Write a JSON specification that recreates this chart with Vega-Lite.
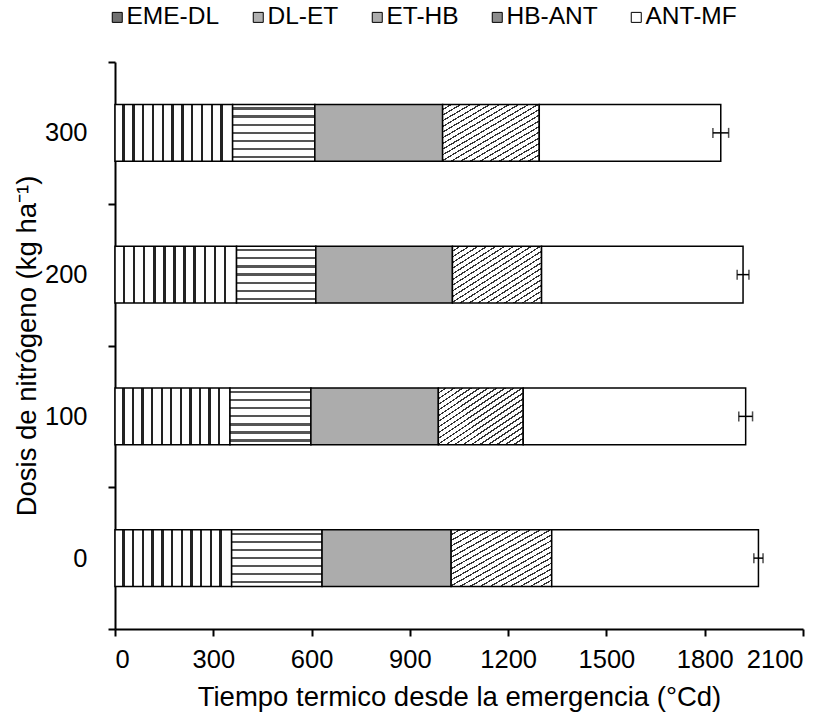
{
  "$schema": "https://vega.github.io/schema/vega-lite/v6.json",
  "width": 688,
  "height": 567,
  "autosize": "none",
  "padding": {"left": 115, "top": 62, "right": 32, "bottom": 86},
  "background": "white",
  "config": {
    "font": "Liberation Sans",
    "view": {"stroke": null},
    "axis": {
      "grid": false,
      "domainColor": "black",
      "domainWidth": 2,
      "tickColor": "black",
      "tickWidth": 2,
      "tickSize": 7,
      "labelColor": "black",
      "labelFontSize": 25.5,
      "titleColor": "black",
      "titleFontSize": 27.5,
      "titleFontWeight": "normal"
    }
  },
  "datasets": {
    "stages": [
      {"dose": "300", "stage": "EME-DL", "order": 1, "dur": 359},
      {"dose": "300", "stage": "DL-ET", "order": 2, "dur": 251},
      {"dose": "300", "stage": "ET-HB", "order": 3, "dur": 390},
      {"dose": "300", "stage": "HB-ANT", "order": 4, "dur": 295},
      {"dose": "300", "stage": "ANT-MF", "order": 5, "dur": 554},
      {"dose": "200", "stage": "EME-DL", "order": 1, "dur": 371},
      {"dose": "200", "stage": "DL-ET", "order": 2, "dur": 242},
      {"dose": "200", "stage": "ET-HB", "order": 3, "dur": 417},
      {"dose": "200", "stage": "HB-ANT", "order": 4, "dur": 272},
      {"dose": "200", "stage": "ANT-MF", "order": 5, "dur": 615},
      {"dose": "100", "stage": "EME-DL", "order": 1, "dur": 351},
      {"dose": "100", "stage": "DL-ET", "order": 2, "dur": 247},
      {"dose": "100", "stage": "ET-HB", "order": 3, "dur": 389},
      {"dose": "100", "stage": "HB-ANT", "order": 4, "dur": 259},
      {"dose": "100", "stage": "ANT-MF", "order": 5, "dur": 679},
      {"dose": "0", "stage": "EME-DL", "order": 1, "dur": 356},
      {"dose": "0", "stage": "DL-ET", "order": 2, "dur": 276},
      {"dose": "0", "stage": "ET-HB", "order": 3, "dur": 394},
      {"dose": "0", "stage": "HB-ANT", "order": 4, "dur": 307},
      {"dose": "0", "stage": "ANT-MF", "order": 5, "dur": 631}
    ],
    "totals": [
      {"dose": "300", "total": 1849, "err": 24},
      {"dose": "200", "total": 1917, "err": 18},
      {"dose": "100", "total": 1925, "err": 21},
      {"dose": "0", "total": 1964, "err": 14}
    ]
  },
  "layer": [
    {
      "data": {"name": "stages"},
      "transform": [
        {"stack": "dur", "groupby": ["dose"], "sort": [{"field": "order", "order": "ascending"}], "as": ["x0", "x1"]}
      ],
      "mark": {"type": "bar", "stroke": "black", "strokeWidth": 1.5, "height": {"band": 0.4}},
      "encoding": {
        "y": {
          "field": "dose",
          "type": "nominal",
          "sort": ["300", "200", "100", "0"],
          "title": "Dosis de nitrógeno (kg ha⁻¹)",
          "scale": {"paddingInner": 0, "paddingOuter": 0},
          "axis": {
            "tickBand": "extent",
            "labelAngle": 0,
            "labelPadding": 21,
            "titleX": -74,
            "titleBaseline": "bottom"
          }
        },
        "x": {
          "field": "x0",
          "type": "quantitative",
          "title": "Tiempo termico desde la emergencia (°Cd)",
          "scale": {"domain": [0, 2100], "nice": false},
          "axis": {
            "values": [0, 300, 600, 900, 1200, 1500, 1800, 2100],
            "format": "d",
            "labelPadding": 11,
            "titleY": 76,
            "titleBaseline": "alphabetic"
          }
        },
        "x2": {"field": "x1"},
        "fill": {
          "field": "stage",
          "type": "nominal",
          "scale": {
            "domain": ["EME-DL", "DL-ET", "ET-HB", "HB-ANT", "ANT-MF"],
            "range": ["#707070", "#b0b0b0", "#acacac", "#8c8c8c", "#ffffff"]
          },
          "condition": [
            {
              "test": "datum.stage === 'EME-DL'",
              "value": {
                "gradient": "linear", "x1": 0, "y1": 0, "x2": 1, "y2": 0,
                "stops": [
                  {"offset": 0, "color": "white"},
                  {"offset": 0.0625, "color": "white"}, {"offset": 0.0625, "color": "#222"}, {"offset": 0.0833, "color": "#222"}, {"offset": 0.0833, "color": "white"},
                  {"offset": 0.1458, "color": "white"}, {"offset": 0.1458, "color": "#222"}, {"offset": 0.1667, "color": "#222"}, {"offset": 0.1667, "color": "white"},
                  {"offset": 0.2292, "color": "white"}, {"offset": 0.2292, "color": "#222"}, {"offset": 0.25, "color": "#222"}, {"offset": 0.25, "color": "white"},
                  {"offset": 0.3125, "color": "white"}, {"offset": 0.3125, "color": "#222"}, {"offset": 0.3333, "color": "#222"}, {"offset": 0.3333, "color": "white"},
                  {"offset": 0.3958, "color": "white"}, {"offset": 0.3958, "color": "#222"}, {"offset": 0.4167, "color": "#222"}, {"offset": 0.4167, "color": "white"},
                  {"offset": 0.4792, "color": "white"}, {"offset": 0.4792, "color": "#222"}, {"offset": 0.5, "color": "#222"}, {"offset": 0.5, "color": "white"},
                  {"offset": 0.5625, "color": "white"}, {"offset": 0.5625, "color": "#222"}, {"offset": 0.5833, "color": "#222"}, {"offset": 0.5833, "color": "white"},
                  {"offset": 0.6458, "color": "white"}, {"offset": 0.6458, "color": "#222"}, {"offset": 0.6667, "color": "#222"}, {"offset": 0.6667, "color": "white"},
                  {"offset": 0.7292, "color": "white"}, {"offset": 0.7292, "color": "#222"}, {"offset": 0.75, "color": "#222"}, {"offset": 0.75, "color": "white"},
                  {"offset": 0.8125, "color": "white"}, {"offset": 0.8125, "color": "#222"}, {"offset": 0.8333, "color": "#222"}, {"offset": 0.8333, "color": "white"},
                  {"offset": 0.8958, "color": "white"}, {"offset": 0.8958, "color": "#222"}, {"offset": 0.9167, "color": "#222"}, {"offset": 0.9167, "color": "white"},
                  {"offset": 1, "color": "white"}
                ]
              }
            },
            {
              "test": "datum.stage === 'DL-ET'",
              "value": {
                "gradient": "linear", "x1": 0, "y1": 0, "x2": 0, "y2": 1,
                "stops": [
                  {"offset": 0, "color": "white"},
                  {"offset": 0.05, "color": "white"}, {"offset": 0.05, "color": "#555"}, {"offset": 0.09, "color": "#555"}, {"offset": 0.09, "color": "white"},
                  {"offset": 0.1929, "color": "white"}, {"offset": 0.1929, "color": "#555"}, {"offset": 0.2329, "color": "#555"}, {"offset": 0.2329, "color": "white"},
                  {"offset": 0.3357, "color": "white"}, {"offset": 0.3357, "color": "#555"}, {"offset": 0.3757, "color": "#555"}, {"offset": 0.3757, "color": "white"},
                  {"offset": 0.4786, "color": "white"}, {"offset": 0.4786, "color": "#555"}, {"offset": 0.5186, "color": "#555"}, {"offset": 0.5186, "color": "white"},
                  {"offset": 0.6214, "color": "white"}, {"offset": 0.6214, "color": "#555"}, {"offset": 0.6614, "color": "#555"}, {"offset": 0.6614, "color": "white"},
                  {"offset": 0.7643, "color": "white"}, {"offset": 0.7643, "color": "#555"}, {"offset": 0.8043, "color": "#555"}, {"offset": 0.8043, "color": "white"},
                  {"offset": 0.9071, "color": "white"}, {"offset": 0.9071, "color": "#555"}, {"offset": 0.9471, "color": "#555"}, {"offset": 0.9471, "color": "white"},
                  {"offset": 1, "color": "white"}
                ]
              }
            },
            {"test": "datum.stage === 'ET-HB'", "value": "#acacac"},
            {
              "test": "datum.stage === 'HB-ANT'",
              "value": {
                "gradient": "linear", "x1": 0, "y1": 0, "x2": 1, "y2": 1,
                "stops": [
                  {"offset": 0, "color": "white"},
                  {"offset": 0.0375, "color": "white"}, {"offset": 0.0375, "color": "#333"}, {"offset": 0.05, "color": "#333"}, {"offset": 0.05, "color": "white"},
                  {"offset": 0.0875, "color": "white"}, {"offset": 0.0875, "color": "#333"}, {"offset": 0.1, "color": "#333"}, {"offset": 0.1, "color": "white"},
                  {"offset": 0.1375, "color": "white"}, {"offset": 0.1375, "color": "#333"}, {"offset": 0.15, "color": "#333"}, {"offset": 0.15, "color": "white"},
                  {"offset": 0.1875, "color": "white"}, {"offset": 0.1875, "color": "#333"}, {"offset": 0.2, "color": "#333"}, {"offset": 0.2, "color": "white"},
                  {"offset": 0.2375, "color": "white"}, {"offset": 0.2375, "color": "#333"}, {"offset": 0.25, "color": "#333"}, {"offset": 0.25, "color": "white"},
                  {"offset": 0.2875, "color": "white"}, {"offset": 0.2875, "color": "#333"}, {"offset": 0.3, "color": "#333"}, {"offset": 0.3, "color": "white"},
                  {"offset": 0.3375, "color": "white"}, {"offset": 0.3375, "color": "#333"}, {"offset": 0.35, "color": "#333"}, {"offset": 0.35, "color": "white"},
                  {"offset": 0.3875, "color": "white"}, {"offset": 0.3875, "color": "#333"}, {"offset": 0.4, "color": "#333"}, {"offset": 0.4, "color": "white"},
                  {"offset": 0.4375, "color": "white"}, {"offset": 0.4375, "color": "#333"}, {"offset": 0.45, "color": "#333"}, {"offset": 0.45, "color": "white"},
                  {"offset": 0.4875, "color": "white"}, {"offset": 0.4875, "color": "#333"}, {"offset": 0.5, "color": "#333"}, {"offset": 0.5, "color": "white"},
                  {"offset": 0.5375, "color": "white"}, {"offset": 0.5375, "color": "#333"}, {"offset": 0.55, "color": "#333"}, {"offset": 0.55, "color": "white"},
                  {"offset": 0.5875, "color": "white"}, {"offset": 0.5875, "color": "#333"}, {"offset": 0.6, "color": "#333"}, {"offset": 0.6, "color": "white"},
                  {"offset": 0.6375, "color": "white"}, {"offset": 0.6375, "color": "#333"}, {"offset": 0.65, "color": "#333"}, {"offset": 0.65, "color": "white"},
                  {"offset": 0.6875, "color": "white"}, {"offset": 0.6875, "color": "#333"}, {"offset": 0.7, "color": "#333"}, {"offset": 0.7, "color": "white"},
                  {"offset": 0.7375, "color": "white"}, {"offset": 0.7375, "color": "#333"}, {"offset": 0.75, "color": "#333"}, {"offset": 0.75, "color": "white"},
                  {"offset": 0.7875, "color": "white"}, {"offset": 0.7875, "color": "#333"}, {"offset": 0.8, "color": "#333"}, {"offset": 0.8, "color": "white"},
                  {"offset": 0.8375, "color": "white"}, {"offset": 0.8375, "color": "#333"}, {"offset": 0.85, "color": "#333"}, {"offset": 0.85, "color": "white"},
                  {"offset": 0.8875, "color": "white"}, {"offset": 0.8875, "color": "#333"}, {"offset": 0.9, "color": "#333"}, {"offset": 0.9, "color": "white"},
                  {"offset": 0.9375, "color": "white"}, {"offset": 0.9375, "color": "#333"}, {"offset": 0.95, "color": "#333"}, {"offset": 0.95, "color": "white"},
                  {"offset": 1, "color": "white"}
                ]
              }
            }
          ],
          "legend": {
            "orient": "none",
            "legendX": -10,
            "legendY": -57,
            "direction": "horizontal",
            "title": null,
            "symbolType": "square",
            "symbolSize": 100,
            "symbolStrokeColor": "black",
            "symbolStrokeWidth": 1,
            "symbolOpacity": 1,
            "labelFontSize": 24.5,
            "labelColor": "black",
            "labelOffset": -3,
            "columnPadding": 26
          }
        }
      }
    },
    {
      "data": {"name": "totals"},
      "mark": {"type": "errorbar", "color": "black", "ticks": {"size": 10, "thickness": 1.5}, "rule": {"strokeWidth": 1.5}},
      "encoding": {
        "y": {"field": "dose", "type": "nominal", "sort": ["300", "200", "100", "0"], "title": "Dosis de nitrógeno (kg ha⁻¹)"},
        "x": {"field": "total", "type": "quantitative", "title": "Tiempo termico desde la emergencia (°Cd)"},
        "xError": {"field": "err"}
      }
    }
  ]
}
